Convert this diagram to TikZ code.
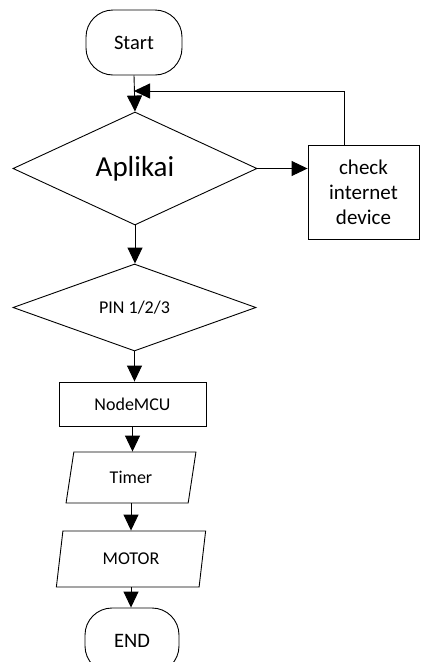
\documentclass[tikz,border=0pt]{standalone}
\usepackage{fontspec}
\setmainfont{Carlito}
\usetikzlibrary{shapes.geometric,arrows.meta}
\begin{document}
\begin{tikzpicture}[x=1pt,y=-1pt,
  box/.style={draw,line width=0.9pt,inner sep=0pt},
  term/.style={box,rectangle,rounded corners=27pt,minimum width=96pt,minimum height=65pt,font=\fontsize{20.5}{24}\selectfont},
  proc/.style={box,rectangle,font=\fontsize{18}{22}\selectfont},
  dec/.style={box,diamond,aspect=2},
  io/.style={box,trapezium,trapezium left angle=77,trapezium right angle=103,trapezium stretches=true,font=\fontsize{18}{22}\selectfont},
  conn/.style={line width=0.9pt,-{Triangle[width=15pt,length=16pt]}}]
\useasboundingbox (0,0) rectangle (425,662);
\node[term] (start) at (134,42.5) {Start};
\node[dec,minimum width=244pt,minimum height=113pt,font=\fontsize{29}{34}\selectfont] (apl) at (135,168.5) {Aplikai};
\node[proc,minimum width=111pt,minimum height=94pt,align=center,font=\fontsize{21}{25}\selectfont] (chk) at (363.5,192) {check\\internet\\device};
\node[dec,minimum width=243pt,minimum height=87pt,font=\fontsize{18}{22}\selectfont] (pin) at (134.5,307.5) {PIN 1/2/3};
\node[proc,minimum width=147pt,minimum height=44pt] (mcu) at (132.5,404) {NodeMCU};
\node[io,minimum width=130pt,minimum height=51pt] (tmr) at (131,477.5) {Timer};
\node[io,minimum width=150pt,minimum height=56pt] (mot) at (131,559) {MOTOR};
\node[term,minimum width=94pt] (end) at (132,640.5) {END};
\coordinate (j) at (134,91);
\coordinate (lx) at (344,0);
\draw[conn] (start.south) -- (apl.north);
\draw[conn] (apl.east) -- (apl.east -| chk.west);
\draw[conn] (chk.north -| lx) |- (j);
\draw[conn] (apl.south) -- (apl.south |- pin.north);
\draw[conn] (pin.south) -- (pin.south |- mcu.north);
\draw[conn] (mcu.south) -- (mcu.south |- tmr.north);
\draw[conn] (tmr.south) -- (tmr.south |- mot.north);
\draw[conn] (mot.south) -- (mot.south |- end.north);
\end{tikzpicture}
\end{document}
